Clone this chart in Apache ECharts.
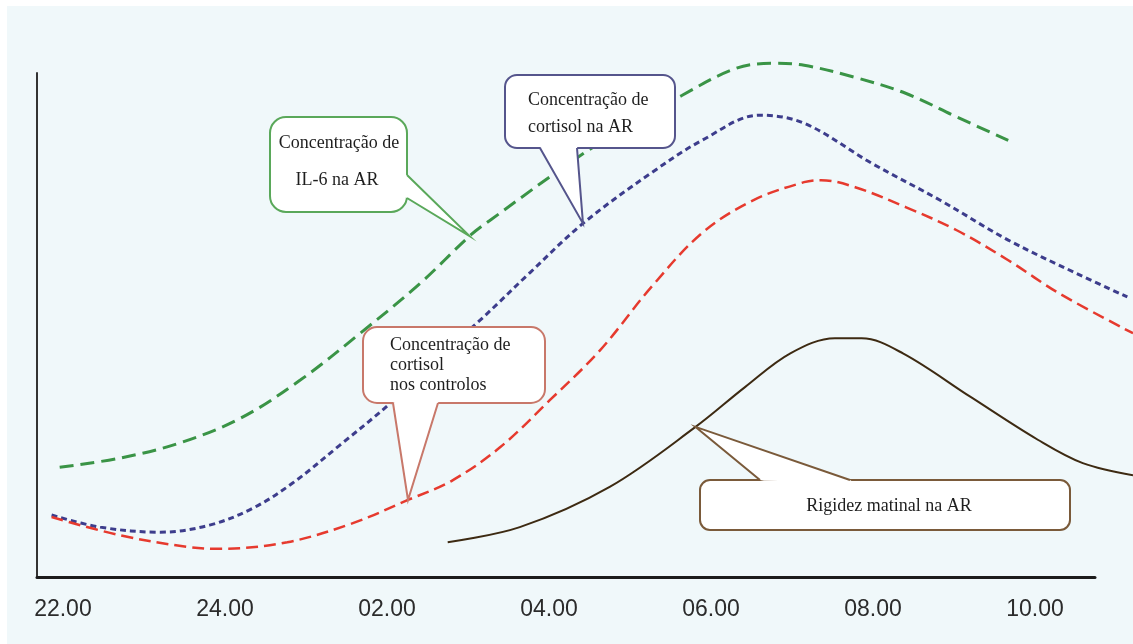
<!DOCTYPE html>
<html><head><meta charset="utf-8">
<script src="https://cdn.jsdelivr.net/npm/echarts@6/dist/echarts.min.js"></script>
<style>html,body{margin:0;padding:0;background:#fff}#c{width:1133px;height:644px}</style>
</head><body><div id="c"></div>
<script>
// x: hours after 22.00 ; y: relative level (arbitrary units)
const tickHours = [0, 2, 4, 6, 8, 10, 12];
const tickLabels = ['22.00', '24.00', '02.00', '04.00', '06.00', '08.00', '10.00'];

const il6X = [-0.04, 0.70, 1.44, 2.19, 2.93, 3.67, 4.41, 5.02, 5.27, 6.54, 7.64, 8.31, 8.77, 9.15, 9.78, 10.41, 11.04, 11.67];
const il6Y = [21.8, 23.6, 26.6, 31.5, 39.1, 48.4, 58.3, 67.7, 70.8, 85.3, 95.6, 101.0, 102.0, 101.6, 99.2, 96.0, 91.3, 86.7];

const cortArX = [-0.14, 0.46, 1.20, 1.81, 2.35, 2.84, 3.42, 4.04, 4.59, 5.15, 5.77, 6.42, 7.26, 7.89, 8.60, 9.15, 9.99, 10.83, 11.67, 12.51, 13.14];
const cortArY = [12.3, 9.9, 8.9, 10.3, 13.7, 18.7, 26.2, 34.5, 43.1, 51.0, 60.5, 70.2, 80.2, 86.7, 91.7, 90.1, 82.1, 74.8, 66.9, 60.3, 55.6];

const cortCtlX = [-0.14, 0.70, 1.53, 1.94, 2.77, 3.58, 4.26, 4.81, 5.40, 6.01, 6.63, 7.26, 7.89, 8.52, 9.15, 9.36, 9.78, 10.41, 11.04, 11.67, 12.30, 13.21];
const cortCtlY = [11.9, 8.3, 6.0, 5.6, 6.9, 10.7, 15.3, 19.2, 25.8, 35.1, 45.0, 57.5, 68.3, 74.8, 78.4, 78.8, 77.4, 73.4, 68.8, 62.9, 56.3, 48.4];

const stiffX = [4.75, 5.64, 6.75, 7.81, 8.42, 8.98, 9.53, 9.86, 10.37, 11.21, 12.04, 12.59, 13.21];
const stiffY = [6.9, 9.9, 17.9, 29.8, 37.7, 44.4, 47.4, 47.4, 44.4, 35.7, 27.2, 22.6, 20.2];

const zip = (xs, ys) => xs.map((x, i) => [x, ys[i]]);

const chart = echarts.init(document.getElementById('c'), null, {renderer: 'canvas'});
const hidden = {show: false};
const option = {
  backgroundColor: '#ffffff',
  animation: false,
  grid: [
    // visible axes
    {left: 37, right: 38, top: 73, bottom: 67, containLabel: false},
    // same scale, wider area so curves can run to the picture edge
    {left: 37, right: 0, top: 23, bottom: 67, containLabel: false}
  ],
  xAxis: [{
    type: 'value', gridIndex: 0, min: -0.32, max: 12.74,
    axisLine: {show: true, onZero: false, lineStyle: {color: '#1c1c1c', width: 3}},
    axisTick: hidden,
    splitLine: hidden,
    axisLabel: {
      customValues: tickHours,
      formatter: function (v) {
        for (let i = 0; i < tickHours.length; i++) if (Math.abs(tickHours[i] - v) < 1e-6) return tickLabels[i];
        return '';
      },
      fontSize: 23, color: '#2b2b2b', margin: 21,
      fontFamily: '"Liberation Sans", Arial, sans-serif'
    }
  }, {
    type: 'value', gridIndex: 1, min: -0.32, max: 13.21,
    axisLine: hidden, axisTick: hidden, axisLabel: hidden, splitLine: hidden
  }],
  yAxis: [{
    type: 'value', gridIndex: 0, min: 0, max: 100,
    axisLine: {show: true, onZero: false, lineStyle: {color: '#333333', width: 2}},
    axisTick: hidden, axisLabel: hidden, splitLine: hidden
  }, {
    type: 'value', gridIndex: 1, min: 0, max: 110,
    axisLine: hidden, axisTick: hidden, axisLabel: hidden, splitLine: hidden
  }],
  series: [
    {name: 'IL-6 AR', type: 'line', xAxisIndex: 1, yAxisIndex: 1, data: zip(il6X, il6Y), smooth: 0.35, symbol: 'none', clip: false,
     lineStyle: {color: '#3a9446', width: 3, type: [14, 7]}},
    {name: 'Cortisol AR', type: 'line', xAxisIndex: 1, yAxisIndex: 1, data: zip(cortArX, cortArY), smooth: 0.35, symbol: 'none', clip: false,
     lineStyle: {color: '#3d3d8c', width: 3, type: [6, 4]}},
    {name: 'Cortisol controlos', type: 'line', xAxisIndex: 1, yAxisIndex: 1, data: zip(cortCtlX, cortCtlY), smooth: 0.35, symbol: 'none', clip: false,
     lineStyle: {color: '#e63a2e', width: 2.5, type: [12, 6]}},
    {name: 'Rigidez AR', type: 'line', xAxisIndex: 1, yAxisIndex: 1, data: zip(stiffX, stiffY), smooth: 0.35, symbol: 'none', clip: false,
     lineStyle: {color: '#3d2a12', width: 2, type: 'solid'}}
  ]
};
chart.setOption(option);

function callout(box, b1, b2, tipData, color, r) {
  const [x0, y0, x1, y1] = box;
  const tip = chart.convertToPixel({xAxisIndex: 1, yAxisIndex: 1}, tipData);
  const cx = (x0 + x1) / 2, cy = (y0 + y1) / 2;
  const inward = p => {
    const dx = cx - p[0], dy = cy - p[1];
    const L = Math.sqrt(dx * dx + dy * dy) || 1;
    return [p[0] + dx / L * 4, p[1] + dy / L * 4];
  };
  return [
    {type: 'rect', z: 20, shape: {x: x0, y: y0, width: x1 - x0, height: y1 - y0, r: r},
     style: {fill: '#ffffff', stroke: color, lineWidth: 2}},
    {type: 'polygon', z: 21, shape: {points: [b1, tip, b2, inward(b2), inward(b1)]},
     style: {fill: '#ffffff', stroke: null}},
    {type: 'polyline', z: 22, shape: {points: [b1, tip, b2]},
     style: {stroke: color, lineWidth: 2, fill: null}}
  ];
}
function txt(x, y, s, align) {
  return {type: 'text', z: 23, x: x, y: y,
    style: {text: s, fill: '#1e1e1e', font: '18px "Liberation Serif", "Times New Roman", serif',
            textAlign: align, textVerticalAlign: 'middle'}};
}

const g = [{type: 'rect', z: -100, silent: true, shape: {x: 7, y: 6, width: 1126, height: 638}, style: {fill: '#f0f8fa'}}];
g.push(...callout([270, 117, 407, 212], [407, 175], [407, 198], [il6X[7], il6Y[7]], '#5aa85a', 16));
g.push(txt(339, 143, 'Concentração de', 'center'), txt(337, 180, 'IL-6 na AR', 'center'));

g.push(...callout([505, 75, 675, 148], [540, 148], [577, 148], [cortArX[11], cortArY[11]], '#55558c', 12));
g.push(txt(528, 100, 'Concentração de', 'left'), txt(528, 127, 'cortisol na AR', 'left'));

g.push(...callout([363, 327, 545, 403], [393, 403], [438, 403], [cortCtlX[6], cortCtlY[6]], '#c8786a', 14));
g.push(txt(390, 345, 'Concentração de', 'left'), txt(390, 365, 'cortisol', 'left'), txt(390, 385, 'nos controlos', 'left'));

g.push(...callout([700, 480, 1070, 530], [760, 480], [850, 480], [stiffX[3], stiffY[3]], '#7a5a3a', 10));
g.push(txt(889, 506, 'Rigidez matinal na AR', 'center'));

chart.setOption({graphic: g});
</script>
</body></html>
